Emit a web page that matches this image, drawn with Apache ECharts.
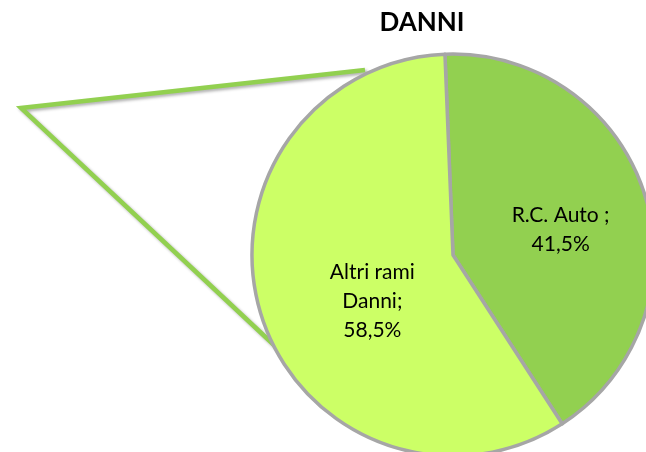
<!DOCTYPE html>
<html>
<head>
<meta charset="utf-8">
<script src="https://cdn.jsdelivr.net/npm/echarts@6/dist/echarts.min.js"></script>
<style>
    html, body { margin: 0; padding: 0; background: #fff; }
    #main { width: 646px; height: 452px; }
</style>
</head>
<body>
<div id="main"></div>
<script>
// dati
var categories = ['R.C. Auto ;', 'Altri rami\nDanni;'];
var values = [41.5, 58.5];
var colors = ['#92d050', '#ccff66'];

var div = document.getElementById('main');
var myChart = echarts.init(div, null, {
    renderer: 'canvas',
    useDirtyRect: false
});

// spostamento etichette per avvicinarle alla posizione dell'originale
var shifts = [[9, 6], [18, 15]];

var seriesData = categories.map(function (name, i) {
    return {
        name: name,
        value: values[i],
        itemStyle: { color: colors[i] },
        label: { offset: shifts[i] }
    };
});

var option = {
    animation: false,
    title: {
        text: 'DANNI',
        left: 417,
        textAlign: 'center',
        top: 5,
        textStyle: {
            fontFamily: 'Lato',
            fontWeight: 'bold',
            fontSize: 26,
            color: '#000'
        }
    },
    // linee di collegamento (residuo del grafico "torta della torta")
    graphic: [
        {
            type: 'polyline',
            z: 0,
            shape: { points: [[365, 70], [21, 108], [290, 360]] },
            style: {
                stroke: '#92d050',
                lineWidth: 4.5,
                fill: null,
                lineJoin: 'miter',
                shadowBlur: 3,
                shadowOffsetX: 2,
                shadowOffsetY: 2,
                shadowColor: 'rgba(0,0,0,0.3)'
            }
        }
    ],
    series: [
        {
            type: 'pie',
            z: 5,
            center: [453, 255],
            radius: 201,
            startAngle: 92.3,
            clockwise: true,
            data: seriesData,
            itemStyle: {
                borderColor: '#a6a6a6',
                borderWidth: 3.5
            },
            label: {
                show: true,
                position: 'inside',
                fontFamily: 'Lato',
                fontSize: 21,
                lineHeight: 29,
                color: '#000',
                align: 'center',
                formatter: function (p) {
                    return p.name + '\n' + p.value.toFixed(1).replace('.', ',') + '%';
                }
            },
            labelLine: { show: false },
            emphasis: { disabled: true }
        }
    ]
};

if (option && typeof option === 'object') {
    myChart.setOption(option);
}

window.addEventListener('resize', myChart.resize);
</script>
</body>
</html>
